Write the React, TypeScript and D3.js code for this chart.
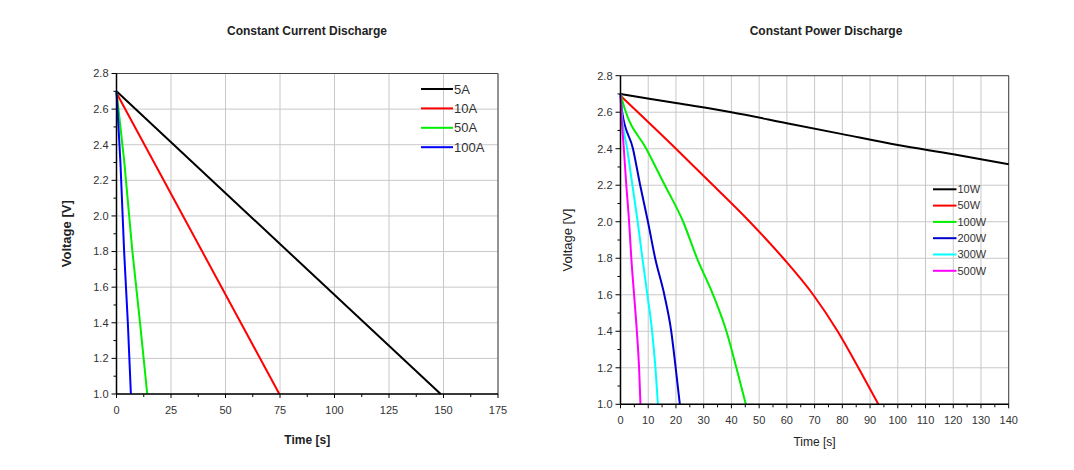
import React from "react";
import * as d3 from "d3";

// ---------- Data ----------
const currentSeriesNames = ["5A", "10A", "50A", "100A"];
const currentColors = ["#000000", "#ff0000", "#00ee00", "#0000ff"];
const current5A: [number, number][] = [[0, 2.7], [148.7, 1.0]];
const current10A: [number, number][] = [[0, 2.69], [74.7, 1.0]];
const current50A: [number, number][] = [[0, 2.7], [3.6, 2.3], [7.3, 1.8], [10.8, 1.4], [14.1, 1.0]];
const current100A: [number, number][] = [[0, 2.7], [1.8, 2.3], [3.5, 1.8], [5.2, 1.4], [6.6, 1.0]];

const powerSeriesNames = ["10W", "50W", "100W", "200W", "300W", "500W"];
const powerColors = ["#000000", "#ff0000", "#00ee00", "#0000cc", "#00ffff", "#ff00ff"];
const power10W: [number, number][] = [[0, 2.7], [20, 2.65], [40, 2.6], [60, 2.54], [80, 2.48], [100, 2.42], [120, 2.37], [140, 2.315]];
const power50W: [number, number][] = [[0, 2.69], [20, 2.4], [33.4, 2.2], [46.6, 2.0], [58.7, 1.8], [69.5, 1.6], [78.3, 1.4], [85.8, 1.2], [93.0, 1.0]];
const power100W: [number, number][] = [[0, 2.7], [1.5, 2.62], [9.3, 2.4], [16, 2.2], [22.6, 2.0], [27.6, 1.8], [33.4, 1.6], [38.2, 1.4], [41.8, 1.2], [45.2, 1.0]];
const power200W: [number, number][] = [[0, 2.7], [0.6, 2.6], [4.5, 2.4], [7.1, 2.2], [9.9, 2.0], [12.5, 1.8], [15.8, 1.6], [18.3, 1.4], [19.9, 1.2], [21.4, 1.0]];
const power300W: [number, number][] = [[0, 2.7], [0.4, 2.6], [2.4, 2.4], [4.3, 2.2], [6.2, 2.0], [7.9, 1.8], [9.7, 1.6], [11.4, 1.4], [12.6, 1.2], [13.5, 1.0]];
const power500W: [number, number][] = [[0, 2.7], [0.3, 2.6], [1.2, 2.4], [2.1, 2.2], [3.1, 2.0], [3.9, 1.8], [4.9, 1.6], [5.9, 1.4], [6.7, 1.2], [7.2, 1.0]];

const voltageTicks = [1.0, 1.2, 1.4, 1.6, 1.8, 2.0, 2.2, 2.4, 2.6, 2.8];
const currentTimeTicks = [0, 25, 50, 75, 100, 125, 150, 175];
const powerTimeTicks = [0, 10, 20, 30, 40, 50, 60, 70, 80, 90, 100, 110, 120, 130, 140];

const FONT = "Arial, 'Liberation Sans', sans-serif";

type Series = { name: string; color: string; data: [number, number][] };

type PanelProps = {
  title: string;
  titleX: number;
  x0: number; x1: number; y0: number; y1: number;
  xMax: number;
  xTicks: number[];
  xMinorStep: number;
  series: Series[];
  boldLabels: boolean;
  yLabelX: number;
  xLabelY: number;
  smooth: boolean;
  legendX: number; legendY: number; legendStep: number; legendLine: number; legendFont: number;
};

function Panel(p: PanelProps) {
  const x = d3.scaleLinear().domain([0, p.xMax]).range([p.x0, p.x1]);
  const y = d3.scaleLinear().domain([1.0, 2.8]).range([p.y1, p.y0]);
  const line = d3.line<[number, number]>().x(d => x(d[0])).y(d => y(d[1]))
    .curve(p.smooth ? d3.curveMonotoneX : d3.curveLinear);
  const yMinor = d3.range(1.1, 2.8, 0.2);
  const xMinor = d3.range(p.xMinorStep, p.xMax, p.xMinorStep * 2);
  const midY = (p.y0 + p.y1) / 2;
  const midX = (p.x0 + p.x1) / 2;
  return (
    <g fontFamily={FONT}>
      <text x={p.titleX} y={35} textAnchor="middle" fontSize={12} fontWeight="bold" fill="#222">{p.title}</text>
      {/* grid */}
      {p.xTicks.map(t => (
        <line key={"gx" + t} x1={x(t)} x2={x(t)} y1={p.y0} y2={p.y1} stroke="#c8c8c8" strokeWidth={1} />
      ))}
      {voltageTicks.map(t => (
        <line key={"gy" + t} x1={p.x0} x2={p.x1} y1={y(t)} y2={y(t)} stroke="#c8c8c8" strokeWidth={1} />
      ))}
      {/* border */}
      <line x1={p.x0} x2={p.x1} y1={p.y0} y2={p.y0} stroke="#444" strokeWidth={1} />
      <line x1={p.x1} x2={p.x1} y1={p.y0} y2={p.y1} stroke="#444" strokeWidth={1} />
      {/* series */}
      {p.series.map(s => (
        <path key={s.name} d={line(s.data) || ""} fill="none" stroke={s.color} strokeWidth={2} />
      ))}
      {/* axes */}
      <line x1={p.x0} x2={p.x1} y1={p.y1} y2={p.y1} stroke="#000" strokeWidth={1.5} />
      <line x1={p.x0} x2={p.x0} y1={p.y0} y2={p.y1} stroke="#000" strokeWidth={1.5} />
      {voltageTicks.map(t => (
        <g key={"ty" + t}>
          <line x1={p.x0 - 5} x2={p.x0} y1={y(t)} y2={y(t)} stroke="#000" />
          <text x={p.x0 - 8} y={y(t)} dy="0.35em" textAnchor="end" fontSize={11} fill="#333">{t.toFixed(1)}</text>
        </g>
      ))}
      {yMinor.map(t => (
        <line key={"my" + t} x1={p.x0 - 3} x2={p.x0} y1={y(t)} y2={y(t)} stroke="#000" />
      ))}
      {p.xTicks.map(t => (
        <g key={"tx" + t}>
          <line x1={x(t)} x2={x(t)} y1={p.y1} y2={p.y1 + 4} stroke="#000" />
          <text x={x(t)} y={p.y1 + 20} textAnchor="middle" fontSize={11} fill="#333">{t}</text>
        </g>
      ))}
      {xMinor.map(t => (
        <line key={"mx" + t} x1={x(t)} x2={x(t)} y1={p.y1} y2={p.y1 + 3} stroke="#000" />
      ))}
      {/* axis labels */}
      <text transform={`translate(${p.yLabelX},${midY}) rotate(-90)`} textAnchor="middle" fontSize={13}
        fontWeight={p.boldLabels ? "bold" : "normal"} fill="#222">Voltage [V]</text>
      <text x={midX} y={p.xLabelY} textAnchor="middle" fontSize={12}
        fontWeight={p.boldLabels ? "bold" : "normal"} fill="#222">Time [s]</text>
      {/* legend */}
      {p.series.map((s, i) => (
        <g key={"lg" + s.name}>
          <line x1={p.legendX} x2={p.legendX + p.legendLine} y1={p.legendY + i * p.legendStep}
            y2={p.legendY + i * p.legendStep} stroke={s.color} strokeWidth={2} />
          <text x={p.legendX + p.legendLine + 1} y={p.legendY + i * p.legendStep} dy="0.35em"
            fontSize={p.legendFont} fill="#333">{s.name}</text>
        </g>
      ))}
    </g>
  );
}

export default function App() {
  const currentData = [current5A, current10A, current50A, current100A];
  const powerData = [power10W, power50W, power100W, power200W, power300W, power500W];
  const currentSeries: Series[] = currentSeriesNames.map((n, i) => ({ name: n, color: currentColors[i], data: currentData[i] }));
  const powerSeries: Series[] = powerSeriesNames.map((n, i) => ({ name: n, color: powerColors[i], data: powerData[i] }));
  return (
    <svg width={1074} height={470} style={{ position: "absolute", left: 0, top: 0, background: "#fff" }}>
      <rect width={1074} height={470} fill="#fff" />
      <Panel title="Constant Current Discharge" titleX={307}
        x0={116.5} x1={498} y0={73.5} y1={394}
        xMax={175} xTicks={currentTimeTicks} xMinorStep={12.5}
        series={currentSeries} boldLabels={true} yLabelX={71} xLabelY={444} smooth={false}
        legendX={421} legendY={89} legendStep={19.4} legendLine={32} legendFont={13} />
      <Panel title="Constant Power Discharge" titleX={826}
        x0={620.5} x1={1008.7} y0={75.7} y1={404.3}
        xMax={140} xTicks={powerTimeTicks} xMinorStep={5}
        series={powerSeries} boldLabels={false} yLabelX={572} xLabelY={446} smooth={true}
        legendX={933} legendY={189.3} legendStep={16.3} legendLine={23.5} legendFont={11} />
    </svg>
  );
}
